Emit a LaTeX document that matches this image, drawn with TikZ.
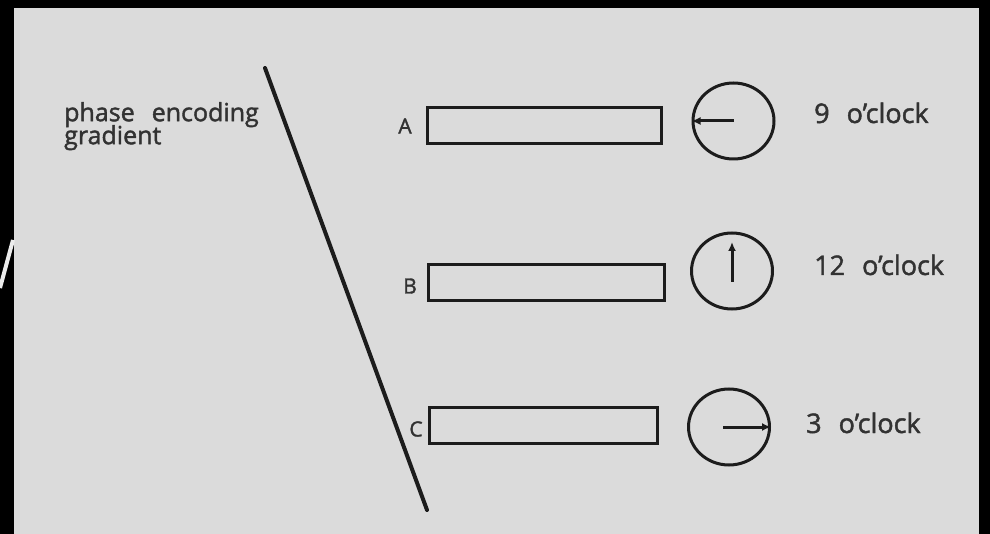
\documentclass[tikz,border=0pt]{standalone}
\usepackage{fontspec}
\setmainfont{Open Sans}[FakeBold=1.6]
\usetikzlibrary{shapes.geometric,arrows.meta}
\definecolor{page}{RGB}{219,219,219}
\definecolor{ink}{RGB}{28,28,28}
\definecolor{txt}{RGB}{50,50,50}
\newcommand\mytightlines{\setlength{\lineskiplimit}{-100pt}\setlength{\lineskip}{0pt}}
\begin{document}
\begin{tikzpicture}[x=1pt,y=-1pt,
  bar/.style={draw=ink, line width=3pt, minimum height=36pt, inner sep=0pt},
  clock/.style={ellipse, draw=ink, line width=3pt, minimum width=81pt, minimum height=76pt, inner sep=0pt},
  hand/.style={draw=ink, line width=3pt, -{Latex[length=9pt,width=8pt]}},
  lbl/.style={text=txt, font=\fontsize{21pt}{24pt}\selectfont, inner sep=0pt},
  tlbl/.style={text=txt, font=\fontsize{27pt}{30pt}\selectfont, inner sep=0pt, anchor=base west},
]
\useasboundingbox (0,0) rectangle (990,534);
\fill[black] (0,0) rectangle (990,534);
\fill[page] (14,8) rectangle (979,534);
\draw[white!85!gray, line width=4pt] (13,240) -- (0,288);

% gradient line
\coordinate (gt) at (265,68);
\coordinate (gb) at (427,510);
\draw[ink, line width=4pt, line cap=round] (gt) -- (gb);
\node[text=txt, inner sep=0pt, anchor=north west, align=left,
      font=\fontsize{25pt}{23pt}\selectfont\mytightlines]
  (pe) at (64,102) {phase\hspace{17pt}encoding\\gradient};

% bars
\node[bar, minimum width=234pt] (rA) at (544,125.5) {};
\node[bar, minimum width=236pt] (rB) at (546,282.5) {};
\node[bar, minimum width=228pt] (rC) at (543,425) {};
\node[lbl] (lA) at (405,126) {A};
\node[lbl] (lB) at (410,286) {B};
\node[lbl] (lC) at (416,429) {C};

% clocks
\node[clock] (cA) at (733.5,121) {};
\node[clock] (cB) at (732,271) {};
\node[clock] (cC) at (729,427) {};
\draw[hand] (cA.center) -- (cA.west);
\draw[hand] ([yshift=-11pt]cB.center) -- ([yshift=29pt]cB.center);
\draw[hand] ([xshift=-6pt]cC.center) -- (cC.east);

\node[tlbl] (tA) at (814,123) {9\hspace{17pt}o'clock};
\node[tlbl] (tB) at (814,275) {12\hspace{17pt}o'clock};
\node[tlbl] (tC) at (806,433) {3\hspace{17pt}o'clock};
\end{tikzpicture}
\end{document}
